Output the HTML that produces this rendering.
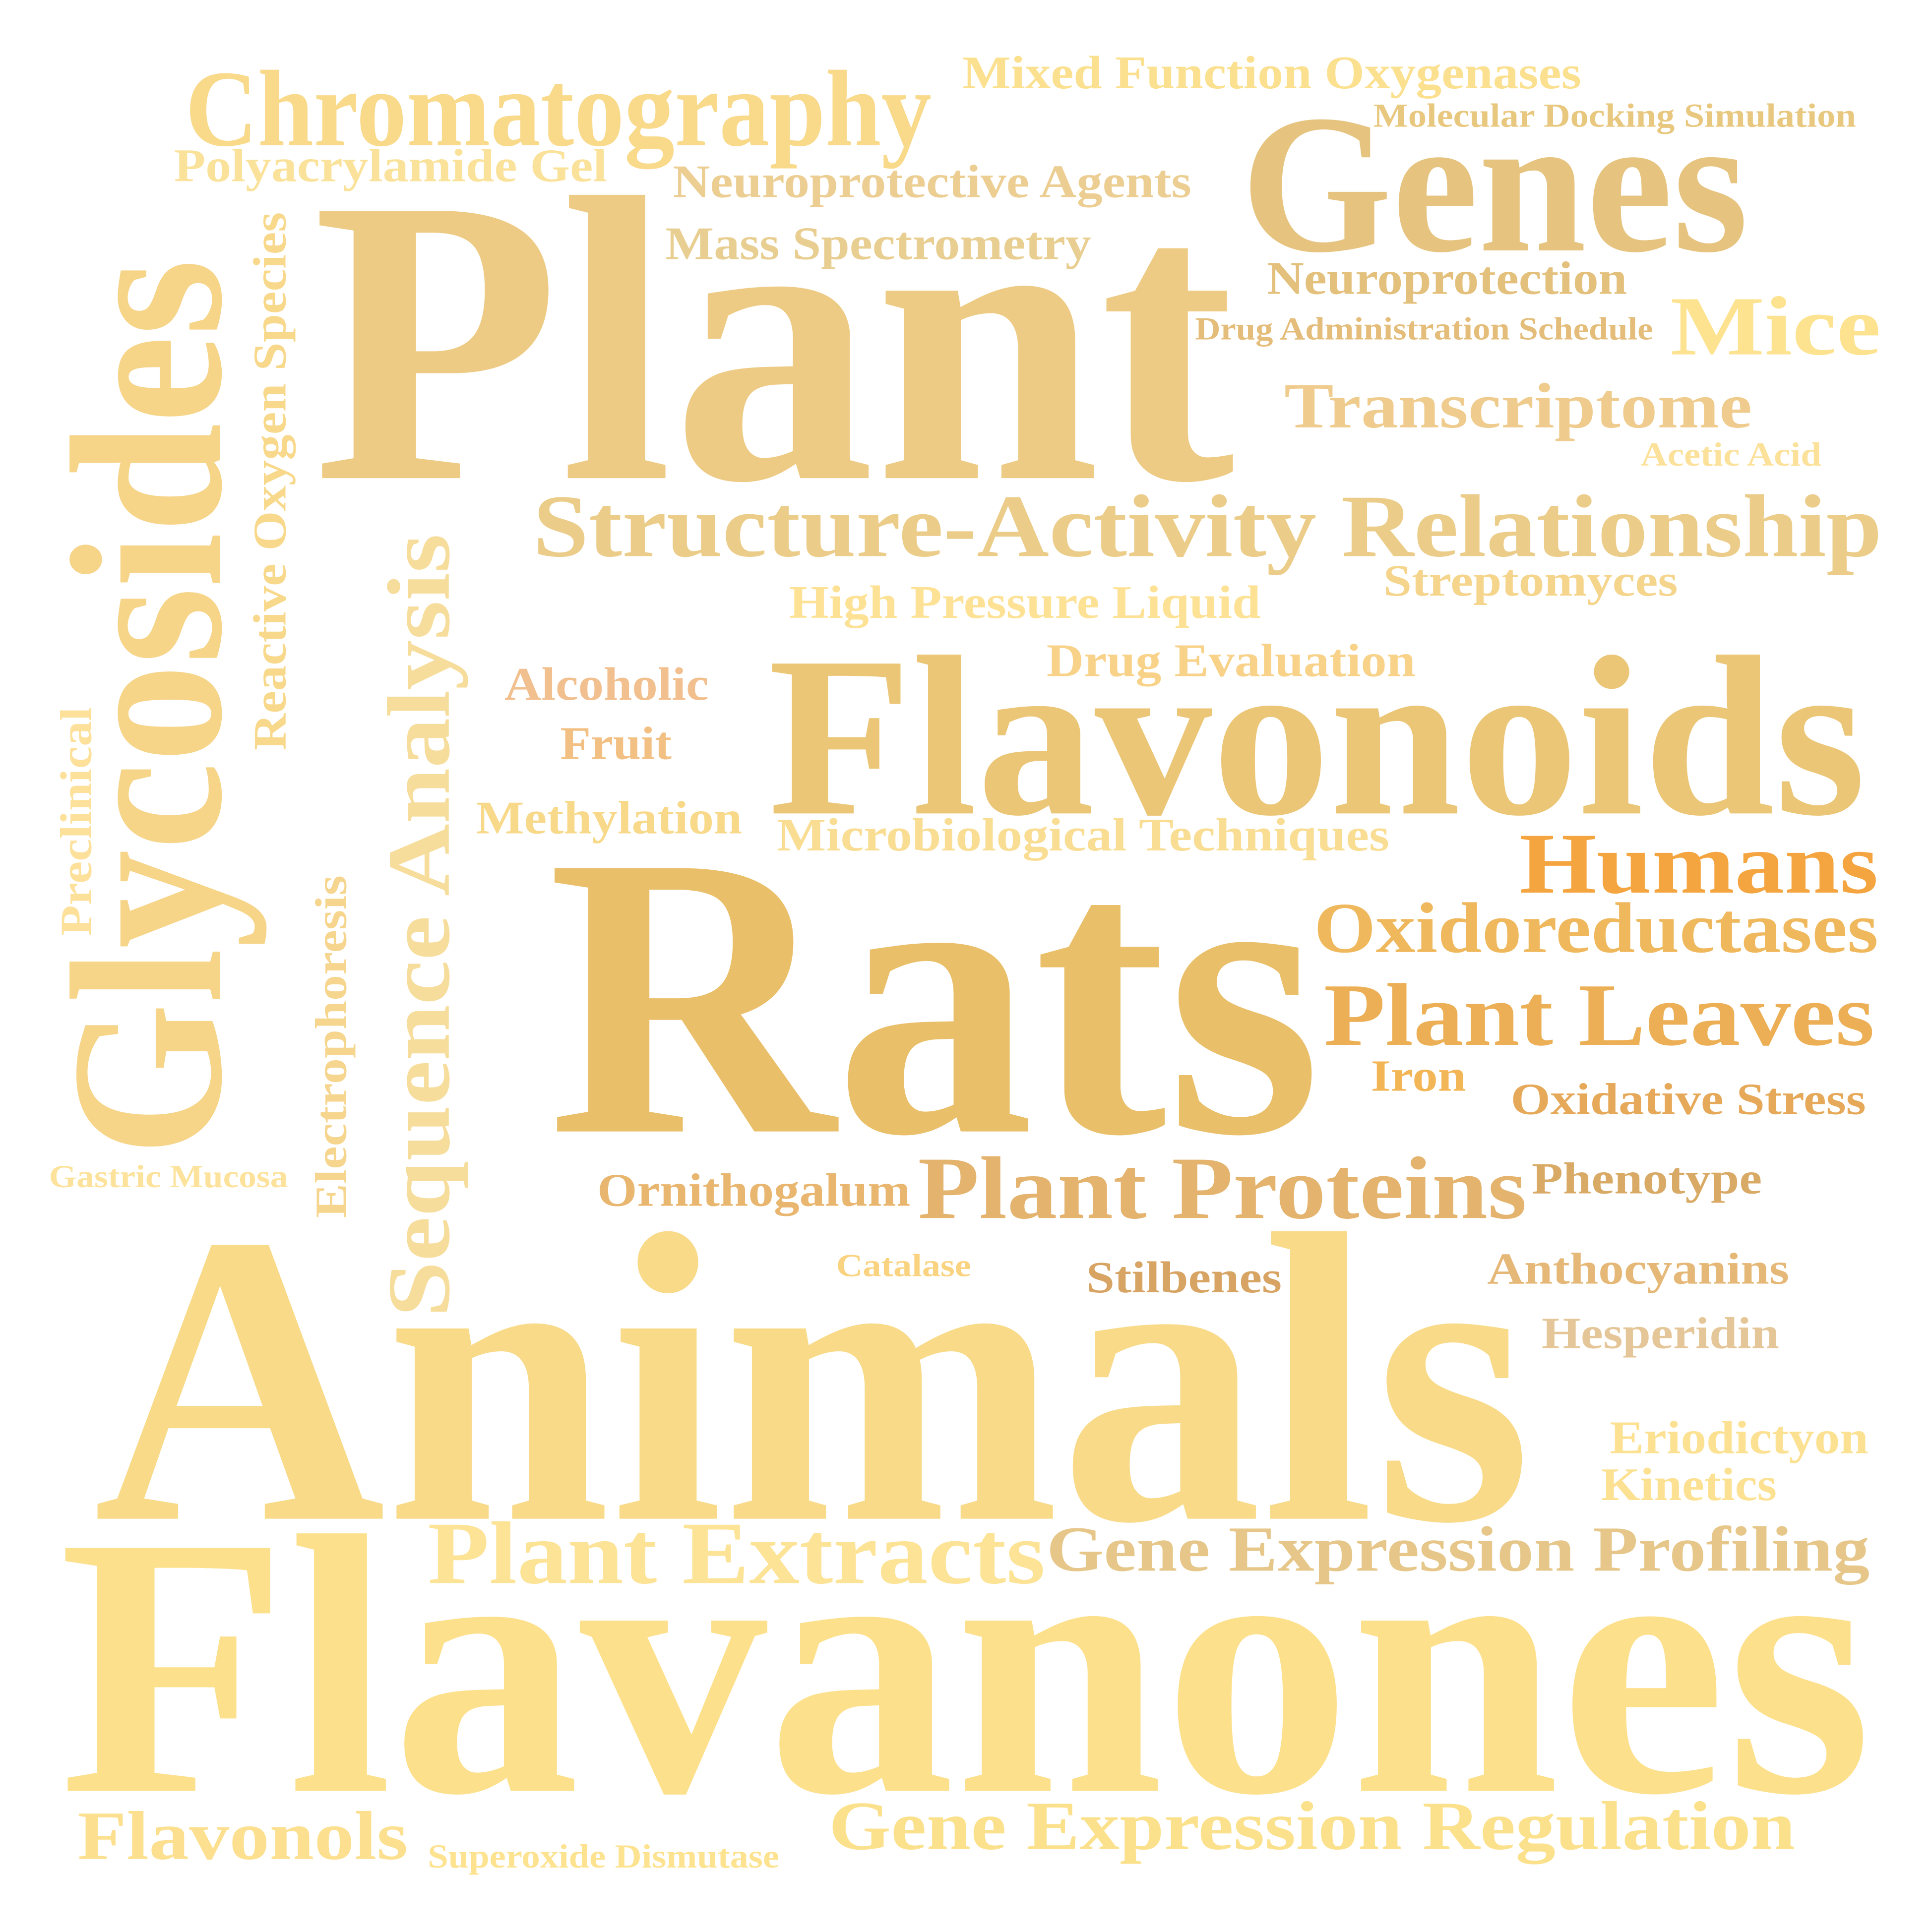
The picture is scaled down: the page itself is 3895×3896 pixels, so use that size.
<!DOCTYPE html>
<html><head><meta charset="utf-8"><style>
html,body{margin:0;padding:0;background:#fff;}
svg{display:block;}
text{font-family:"Liberation Serif",serif;font-weight:bold;}
</style></head>
<body>
<svg id="cloud" width="3895" height="3896" viewBox="2.4 0.8 1561 1561" xmlns="http://www.w3.org/2000/svg">
<rect x="-20" y="-20" width="1620" height="1620" fill="#fff"/>
</svg>
<script>
const words = ["Chromatography","Mixed Function Oxygenases","Molecular Docking Simulation","Genes","Polyacrylamide Gel","Neuroprotective Agents","Plant","Mass Spectrometry","Neuroprotection","Drug Administration Schedule","Mice","Transcriptome","Acetic Acid","Structure-Activity Relationship","Streptomyces","High Pressure Liquid","Drug Evaluation","Alcoholic","Fruit","Methylation","Flavonoids","Microbiological Techniques","Humans","Oxidoreductases","Plant Leaves","Iron","Oxidative Stress","Rats","Ornithogalum","Plant Proteins","Phenotype","Catalase","Stilbenes","Anthocyanins","Hesperidin","Gastric Mucosa","Animals","Eriodictyon","Kinetics","Plant Extracts","Gene Expression Profiling","Flavanones","Flavonols","Superoxide Dismutase","Gene Expression Regulation","Glycosides","Reactive Oxygen Species","Preclinical","Sequence Analysis","Electrophoresis"];
const sizes = [88,38,27,160,38,38,330,38,38,26,68,52,27,72,36,38,38,38,38,38,185,38,70,58,72,36,36,325,38,72,36,26,36,36,36,26,335,38,38,72,52,300,56,27,56,175,38,36,72,36];
const colors = ["#f9d98a","#fbe08f","#e8c77e","#e6c47f","#fbe29a","#ecce93","#eecb84","#e8ce90","#e3c07b","#e4bd7a","#fde38f","#efcc8d","#fbe19a","#ebcc88","#f5d48b","#fde296","#f8d288","#f2bf8e","#f3c083","#f8d98a","#ebc677","#f9dd93","#f4a540","#efb85c","#ecaf55","#f3b656","#e6a95a","#eabf69","#e9b66f","#e4b36d","#d9aa66","#f9d37f","#d7a463","#e6b878","#e5c698","#fce29a","#f8da88","#fde193","#fde193","#fde396","#e6c789","#fde08c","#fce08f","#fde28f","#fce18d","#f6d488","#f8d98c","#fde09a","#f7dd9c","#f6d58e"];
// layout: [x start, baseline, length, rotated]
const layout = [[152,118,603,0],[780,72,500,0],[1112,103,390,0],[1005,203,410,0],[143,147,350,0],[546,160,419,0],[255,387,745,0],[540,210,344,0],[1026,238,291,0],[968,275,370,0],[1352,287,170,0],[1040,346,378,0],[1328,377,146,0],[433,450,1090,0],[1120,482,238,0],[640,500,381,0],[848,547,298,0],[410,566,165,0],[455,614,90,0],[387,674,215,0],[623,658,887,0],[630,688,495,0],[1230,722,290,0],[1064,770,456,0],[1072,845,445,0],[1110,882,77,0],[1223,901,287,0],[445,915,625,0],[485,975,253,0],[744,985,492,0],[1240,965,186,0],[678,1032,109,0],[880,1045,158,0],[1204,1038,244,0],[1248,1090,192,0],[42,960,193,0],[78,1228,1162,0],[1303,1175,209,0],[1296,1213,142,0],[348,1280,499,0],[848,1270,665,0],[50,1448,1465,0],[65,1503,267,0],[348,1510,284,0],[672,1495,781,0],
[180,935,725,1],[233,607,435,1],[76,757,185,1],[365,1065,633,1],[282,985,277,1]];
const svg = document.getElementById('cloud');
const NS = 'http://www.w3.org/2000/svg';
words.forEach((w, i) => {
  const L = layout[i];
  const t = document.createElementNS(NS, 'text');
  
  
  t.setAttribute('font-size', sizes[i]);
  t.setAttribute('fill', colors[i]);
  t.setAttribute('textLength', L[2]);
  t.setAttribute('lengthAdjust', 'spacingAndGlyphs');
  if (L[3]) {
    t.setAttribute('transform', 'translate(' + L[0] + ',' + L[1] + ') rotate(-90)');
    t.setAttribute('x', 0); t.setAttribute('y', 0);
  } else {
    t.setAttribute('x', L[0]); t.setAttribute('y', L[1]);
  }
  t.textContent = w;
  svg.appendChild(t);
});
</script>
</body></html>
